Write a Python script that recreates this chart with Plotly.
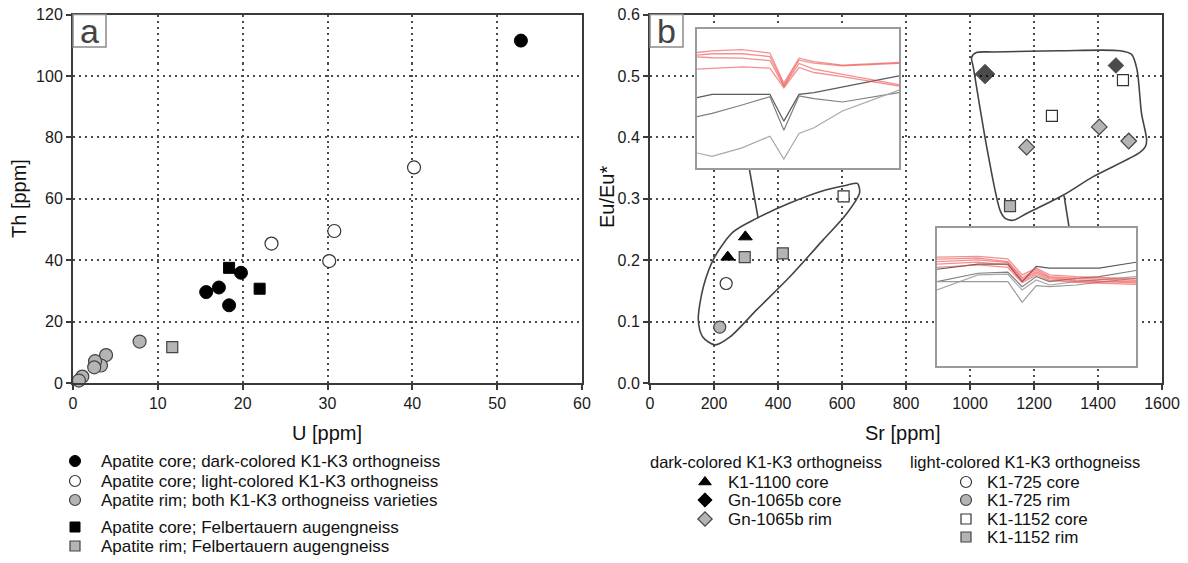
import plotly.graph_objects as go

W, H = 1188, 563

# ---------------- Panel a data (U vs Th, ppm) ----------------
dark_core_U = [52.8, 15.7, 17.2, 18.4, 19.8]
dark_core_Th = [111.5, 29.6, 31.1, 25.3, 35.9]
light_core_U = [40.2, 30.8, 30.2, 23.4]
light_core_Th = [70.2, 49.5, 39.7, 45.4]
rim_U = [7.85, 3.9, 3.3, 2.6, 2.5, 1.1, 0.7]
rim_Th = [13.5, 9.1, 5.7, 7.1, 5.1, 2.1, 0.8]
felb_core_U = [18.4, 22.0]
felb_core_Th = [37.5, 30.7]
felb_rim_U = [11.7]
felb_rim_Th = [11.7]

# ---------------- Panel b data (Sr vs Eu/Eu*) ----------------
k1100_core_Sr = [243, 298]
k1100_core_Eu = [0.205, 0.238]
gn_core_Sr = [1047, 1456]
gn_core_Eu = [0.503, 0.517]
gn_rim_Sr = [1177, 1404, 1496]
gn_rim_Eu = [0.384, 0.417, 0.394]
k725_core_Sr = [238]
k725_core_Eu = [0.162]
k725_rim_Sr = [218]
k725_rim_Eu = [0.091]
k1152_core_Sr = [605, 1256, 1478]
k1152_core_Eu = [0.304, 0.435, 0.493]
k1152_rim_Sr = [296, 415, 1125]
k1152_rim_Eu = [0.205, 0.211, 0.288]

# envelopes (data units of panel b)
env1_Sr = [203, 165, 151, 167, 203, 260, 333, 437, 541, 615, 648, 655, 615, 541, 437, 333, 250, 203]
env1_Eu = [0.062, 0.075, 0.103, 0.157, 0.206, 0.246, 0.268, 0.293, 0.313, 0.322, 0.325, 0.31,
           0.276, 0.233, 0.173, 0.119, 0.075, 0.062]
env2_Sr = [1281, 1469, 1505, 1522, 1536, 1552, 1548, 1530, 1385, 1292, 1177, 1135, 1110, 1094,
           1052, 1010, 1005, 1020, 1073, 1281]
env2_Eu = [0.541, 0.541, 0.535, 0.51, 0.439, 0.396, 0.385, 0.375, 0.336, 0.306, 0.276, 0.265,
           0.268, 0.281, 0.385, 0.515, 0.53, 0.538, 0.539, 0.541]
leader1_Sr = [310, 338]
leader1_Eu = [0.350, 0.268]
leader2_Sr = [1294, 1310]
leader2_Eu = [0.305, 0.252]

# ---------------- Inset patterns (relative units) ----------------
inset1_x = [0, 7.5, 22.3, 36.1, 43.0, 50.5, 57.9, 72, 100]
inset1_red = [
    [83.1, 84.3, 85.1, 82.7, 61.0, 79.0, 76.6, 74.0, 75.9],
    [81.2, 82.2, 82.2, 80.2, 59.5, 77.6, 75.4, 73.5, 75.2],
    [80.0, 79.3, 79.0, 77.3, 58.6, 75.2, 71.1, 67.5, 60.0],
    [71.1, 71.6, 72.8, 71.8, 57.6, 72.3, 68.7, 65.8, 59.0],
]
inset1_gray = [
    [50.6, 53.0, 53.0, 53.0, 33.7, 53.0, 54.2, 58.3, 66.3],
    [36.9, 39.3, 45.3, 51.3, 27.2, 51.8, 49.9, 47.5, 54.2],
    [10.8, 8.4, 14.5, 22.9, 6.5, 24.8, 28.9, 41.0, 56.1],
]
inset2_x = [0, 20.6, 35.6, 42.8, 49.9, 56.5, 70, 81.5, 100]
inset2_red = [
    [78.9, 79.4, 77.7, 66.0, 70.9, 66.0, 64.8, 64.1, 63.1],
    [77.4, 78.2, 75.7, 64.1, 69.7, 64.8, 63.6, 62.9, 62.1],
    [75.7, 76.9, 75.0, 62.9, 68.4, 64.1, 62.4, 61.7, 61.2],
    [73.8, 75.2, 73.3, 61.7, 67.2, 63.1, 61.7, 61.2, 60.2],
    [71.4, 73.3, 71.4, 60.4, 66.0, 62.1, 60.7, 60.2, 59.2],
]
inset2_gray = [
    [70.1, 73.8, 73.8, 61.2, 72.1, 70.9, 70.9, 70.9, 75.2],
    [61.2, 67.2, 68.0, 57.5, 64.8, 61.2, 63.6, 64.8, 69.2],
    [55.1, 66.0, 66.5, 55.1, 62.4, 58.7, 61.2, 62.4, 64.8],
    [61.2, 61.2, 61.2, 46.1, 58.3, 57.5, 58.7, 60.7, 63.6],
]

# ---------------- Legend texts ----------------
legend_a = [
    "Apatite core; dark-colored K1-K3 orthogneiss",
    "Apatite core; light-colored K1-K3 orthogneiss",
    "Apatite rim; both K1-K3 orthogneiss varieties",
    "Apatite core; Felbertauern augengneiss",
    "Apatite rim; Felbertauern augengneiss",
]
legend_b_dark_title = "dark-colored K1-K3 orthogneiss"
legend_b_dark = ["K1-1100 core", "Gn-1065b core", "Gn-1065b rim"]
legend_b_light_title = "light-colored K1-K3 orthogneiss"
legend_b_light = ["K1-725 core", "K1-725 rim", "K1-1152 core", "K1-1152 rim"]

# ---------------- styling ----------------
FONT = "Liberation Sans, Arial, sans-serif"
GRAY = "#b4b4b4"
EDGE = "#333333"
BLACK = dict(color="#000000", line=dict(color="#000000", width=1))
WHITE = dict(color="#ffffff", line=dict(color=EDGE, width=1.2))
GREYM = dict(color=GRAY, line=dict(color="#444444", width=1.2))


def px2x(px):
    return px / W


def px2y(py):
    return 1 - py / H


A_X = (73, 582)
B_X = (650, 1162)
P_Y = (14.5, 383)
IN1 = (697, 899, 29, 168)
IN2 = (937, 1136, 228, 366)

fig = go.Figure()


def mk(style, symbol, size):
    d = dict(symbol=symbol, size=size)
    d.update(style)
    return d


def add_pts(x, y, xa, ya, marker, name):
    fig.add_trace(go.Scatter(x=x, y=y, mode="markers", marker=marker, name=name,
                             xaxis=xa, yaxis=ya, showlegend=False, cliponaxis=False,
                             hoverinfo="x+y+name"))


# panel a
add_pts(rim_U, rim_Th, "x", "y", mk(GREYM, "circle", 13), legend_a[2])
add_pts(felb_rim_U, felb_rim_Th, "x", "y", mk(GREYM, "square", 11), legend_a[4])
add_pts(light_core_U, light_core_Th, "x", "y", mk(WHITE, "circle", 13), legend_a[1])
add_pts(dark_core_U, dark_core_Th, "x", "y", mk(BLACK, "circle", 13), legend_a[0])
add_pts(felb_core_U, felb_core_Th, "x", "y", mk(BLACK, "square", 11), legend_a[3])

# panel b envelopes & leaders
for xs, ys in [(env1_Sr, env1_Eu), (env2_Sr, env2_Eu)]:
    fig.add_trace(go.Scatter(x=xs, y=ys, mode="lines", line=dict(color="#444444", width=1.6, shape="spline", smoothing=0.8),
                             xaxis="x2", yaxis="y2", showlegend=False, hoverinfo="skip"))
for xs, ys in [(leader1_Sr, leader1_Eu), (leader2_Sr, leader2_Eu)]:
    fig.add_trace(go.Scatter(x=xs, y=ys, mode="lines", line=dict(color="#444444", width=1.6),
                             xaxis="x2", yaxis="y2", showlegend=False, hoverinfo="skip", cliponaxis=False))

add_pts(k725_rim_Sr, k725_rim_Eu, "x2", "y2", mk(GREYM, "circle", 12), legend_b_light[1])
add_pts(k725_core_Sr, k725_core_Eu, "x2", "y2", mk(WHITE, "circle", 12), legend_b_light[0])
add_pts(k1152_rim_Sr, k1152_rim_Eu, "x2", "y2", mk(GREYM, "square", 11), legend_b_light[3])
add_pts(k1152_core_Sr, k1152_core_Eu, "x2", "y2", mk(WHITE, "square", 11), legend_b_light[2])
add_pts(gn_rim_Sr, gn_rim_Eu, "x2", "y2", mk(GREYM, "diamond", 12), legend_b_dark[2])
bd = mk(BLACK, "diamond", [15, 12])
add_pts(gn_core_Sr, gn_core_Eu, "x2", "y2", bd, legend_b_dark[1])
add_pts(k1100_core_Sr, k1100_core_Eu, "x2", "y2", mk(BLACK, "triangle-up", 12), legend_b_dark[0])

# insets
gray_cols = ["#5a5a5a", "#808080", "#a8a8a8", "#9a9a9a"]
for xa, ya, xs, reds, grays in [("x3", "y3", inset1_x, inset1_red, inset1_gray),
                                ("x4", "y4", inset2_x, inset2_red, inset2_gray)]:
    for i, g in enumerate(grays):
        fig.add_trace(go.Scatter(x=xs, y=g, mode="lines", line=dict(color=gray_cols[i], width=1.2),
                                 xaxis=xa, yaxis=ya, showlegend=False, hoverinfo="skip"))
    for r in reds:
        fig.add_trace(go.Scatter(x=xs, y=r, mode="lines", line=dict(color="rgba(235,70,70,0.6)", width=1.3),
                                 xaxis=xa, yaxis=ya, showlegend=False, hoverinfo="skip"))

# ---------------- legend symbols (own helper axes, pixel units) ----------------
LEG_TOP = 422.25
leg_rows_a = [461, 481, 500, 527, 546]
leg_styles_a = [mk(BLACK, "circle", 11), mk(WHITE, "circle", 11), mk(GREYM, "circle", 11),
                mk(BLACK, "square", 10), mk(GREYM, "square", 10)]
leg_rows_b = [482, 500, 519, 537]
leg_styles_bd = [mk(BLACK, "triangle-up", 11), mk(BLACK, "diamond", 11), mk(GREYM, "diamond", 11)]
leg_styles_bl = [mk(WHITE, "circle", 11), mk(GREYM, "circle", 11), mk(WHITE, "square", 10), mk(GREYM, "square", 10)]

ann = []


def leg_item(xm, xt, row, style, text, size=17):
    fig.add_trace(go.Scatter(x=[xm], y=[row], mode="markers", marker=style, xaxis="x5", yaxis="y5",
                             showlegend=False, hoverinfo="skip"))
    ann.append(dict(x=px2x(xt), y=px2y(row), xref="paper", yref="paper", text=text, showarrow=False,
                    xanchor="left", yanchor="middle", borderpad=0,
                    font=dict(family=FONT, size=size, color="#111111")))


for i, t in enumerate(legend_a):
    leg_item(75, 100, leg_rows_a[i], leg_styles_a[i], t)
for i, t in enumerate(legend_b_dark):
    leg_item(705, 727, leg_rows_b[i], leg_styles_bd[i], t, 17)
for i, t in enumerate(legend_b_light):
    leg_item(966, 986, leg_rows_b[i], leg_styles_bl[i], t, 17)
for xt, t in [(649, legend_b_dark_title), (909, legend_b_light_title)]:
    ann.append(dict(x=px2x(xt), y=px2y(462), xref="paper", yref="paper", text=t, showarrow=False,
                    xanchor="left", yanchor="middle", borderpad=0,
                    font=dict(family=FONT, size=16.5, color="#111111")))

# axis titles
TF = dict(family=FONT, size=20, color="#111111")
ann += [
    dict(x=px2x(327), y=px2y(433), xref="paper", yref="paper", text="U [ppm]", showarrow=False, font=TF,
         xanchor="center", yanchor="middle"),
    dict(x=px2x(903), y=px2y(433), xref="paper", yref="paper", text="Sr [ppm]", showarrow=False, font=TF,
         xanchor="center", yanchor="middle"),
    dict(x=px2x(19), y=px2y(199), xref="paper", yref="paper", text="Th [ppm]", showarrow=False, font=TF,
         textangle=-90, xanchor="center", yanchor="middle"),
    dict(x=px2x(607), y=px2y(197), xref="paper", yref="paper", text="Eu/Eu*", showarrow=False, font=TF,
         textangle=-90, xanchor="center", yanchor="middle"),
]

# panel labels
shapes = []
for (x0, x1), lab in [((73, 106), "a"), ((650, 683), "b")]:
    shapes.append(dict(type="rect", xref="paper", yref="paper", x0=px2x(x0), x1=px2x(x1), y0=px2y(47), y1=px2y(P_Y[0]),
                       fillcolor="white", line=dict(color="#8a8a8a", width=1.5), layer="above"))
    ann.append(dict(x=px2x((x0 + x1) / 2), y=px2y(31), xref="paper", yref="paper", text=lab, showarrow=False,
                    font=dict(family=FONT, size=34, color="#444444"), xanchor="center", yanchor="middle"))

TICKF = dict(family=FONT, size=16, color="#1a1a1a")


def main_axis(domain, rng, dtick, fmt=None):
    d = dict(domain=domain, range=rng, dtick=dtick, tick0=0, showline=True, linecolor="#3a3a3a", linewidth=2,
             mirror=True, ticks="outside", ticklen=5, tickcolor="#3a3a3a", tickwidth=1.5,
             showgrid=True, gridcolor="#4a4a4a", gridwidth=1.6, griddash="2px,4px", zeroline=False,
             tickfont=TICKF, fixedrange=True, automargin=False)
    if fmt:
        d["tickformat"] = fmt
    return d


def inset_axis(domain, anchor):
    return dict(domain=domain, range=[0, 100], showline=True, linecolor="#9a9a9a", linewidth=1.5, mirror=True,
                showgrid=False, zeroline=False, showticklabels=False, ticks="", anchor=anchor,
                fixedrange=True, automargin=False)


ydom = [px2y(P_Y[1]), px2y(P_Y[0])]
fig.update_layout(
    template="none",
    width=W, height=H, autosize=False,
    margin=dict(l=0, r=0, t=0, b=0, pad=0),
    paper_bgcolor="white", plot_bgcolor="white",
    font=dict(family=FONT),
    xaxis=dict(main_axis([px2x(A_X[0]), px2x(A_X[1])], [0, 60], 10), anchor="y"),
    yaxis=dict(main_axis(ydom, [0, 120], 20), anchor="x"),
    xaxis2=dict(main_axis([px2x(B_X[0]), px2x(B_X[1])], [0, 1600], 200), anchor="y2"),
    yaxis2=dict(main_axis(ydom, [0, 0.6], 0.1, ".1f"), anchor="x2"),
    xaxis3=inset_axis([px2x(IN1[0]), px2x(IN1[1])], "y3"),
    yaxis3=inset_axis([px2y(IN1[3]), px2y(IN1[2])], "x3"),
    xaxis4=inset_axis([px2x(IN2[0]), px2x(IN2[1])], "y4"),
    yaxis4=inset_axis([px2y(IN2[3]), px2y(IN2[2])], "x4"),
    xaxis5=dict(domain=[0, 1], range=[0, W], visible=False, anchor="y5", fixedrange=True, automargin=False),
    yaxis5=dict(domain=[0, px2y(LEG_TOP)], range=[H, LEG_TOP], visible=False, anchor="x5", fixedrange=True,
                automargin=False),
    annotations=ann,
    shapes=shapes,
    showlegend=False,
)

fig.write_html("out.html", config={"displayModeBar": False},
               post_script="document.body.style.margin='0';")
